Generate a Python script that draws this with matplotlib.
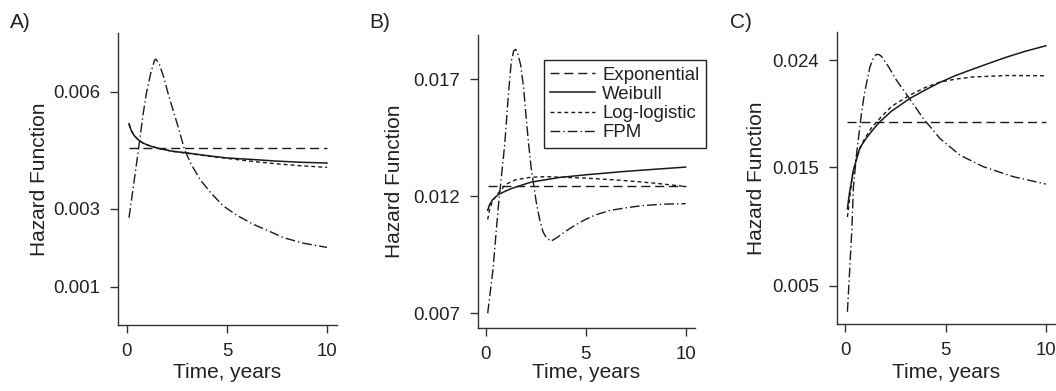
import matplotlib
matplotlib.use("Agg")
import matplotlib.pyplot as plt
from matplotlib.lines import Line2D

plt.rcParams['font.family'] = ['Liberation Sans', 'DejaVu Sans']
plt.rcParams['lines.scale_dashes'] = False

# ---------------- data ----------------
# Panel A
expo_A = 0.00456
t_wei_A = [0.1, 0.2, 0.35, 0.55, 0.8, 1.2, 1.7, 2.3, 3.0, 4.0, 5.0, 6.3, 7.5, 8.7, 10.0]
wei_A = [0.00518, 0.00502, 0.00488, 0.00477, 0.00468, 0.00460, 0.00453, 0.00447,
         0.00443, 0.00436, 0.00430, 0.00426, 0.00422, 0.00419, 0.00417]
t_ll_A = [0.1, 0.2, 0.35, 0.55, 0.8, 1.2, 1.7, 2.3, 3.0, 4.0, 5.0, 6.3, 7.5, 8.7, 10.0]
ll_A = [0.00516, 0.00501, 0.00488, 0.00477, 0.00468, 0.00460, 0.00453, 0.00447,
        0.00442, 0.00435, 0.00429, 0.00421, 0.00415, 0.00410, 0.00406]
t_fpm_A = [0.1, 0.3, 0.55, 0.8, 0.97, 1.2, 1.38, 1.45, 1.63, 1.85, 2.05, 2.3, 2.55,
           2.88, 3.2, 3.65, 4.2, 4.82, 5.5, 6.32, 7.0, 7.82, 8.8, 10.0]
fpm_A = [0.00277, 0.00350, 0.00443, 0.00540, 0.00596, 0.00650, 0.00681, 0.00683,
         0.00668, 0.00635, 0.00596, 0.00553, 0.00511, 0.00451, 0.00415, 0.00375,
         0.00340, 0.00307, 0.00283, 0.00260, 0.00245, 0.00226, 0.00212, 0.00201]

# Panel B
expo_B = 0.01243
t_wei_B = [0.1, 0.2, 0.35, 0.62, 1.0, 1.28, 1.8, 2.28, 3.0, 3.72, 5.0, 6.88, 8.5, 10.0]
wei_B = [0.01140, 0.01165, 0.01185, 0.01206, 0.01222, 0.01232, 0.01247, 0.01260,
         0.01270, 0.01280, 0.01291, 0.01305, 0.01315, 0.01324]
t_ll_B = [0.1, 0.2, 0.35, 0.6, 1.0, 1.5, 2.28, 3.0, 3.72, 5.0, 6.88, 8.5, 10.0]
ll_B = [0.01100, 0.01145, 0.01180, 0.01210, 0.01250, 0.01270, 0.01281, 0.01283,
        0.01281, 0.01277, 0.01267, 0.01255, 0.01241]
t_fpm_B = [0.1, 0.37, 0.62, 0.95, 1.15, 1.28, 1.4, 1.5, 1.6, 1.75, 1.9, 2.03, 2.15,
           2.28, 2.53, 2.7, 2.87, 3.05, 3.28, 3.6, 4.0, 4.45, 4.98, 5.5, 6.22, 7.0,
           7.88, 9.0, 10.0]
fpm_B = [0.00700, 0.00891, 0.01146, 0.01419, 0.01650, 0.01774, 0.01820, 0.01827,
         0.01810, 0.01760, 0.01660, 0.01530, 0.01420, 0.01317, 0.01174, 0.01100,
         0.01047, 0.01020, 0.01008, 0.01025, 0.01050, 0.01075, 0.01100, 0.01120,
         0.01139, 0.01150, 0.01160, 0.01166, 0.01168]

# Panel C
expo_C = 0.01876
t_wei_C = [0.1, 0.2, 0.4, 0.73, 1.05, 1.4, 1.72, 2.3, 3.22, 4.0, 4.72, 5.5, 6.38,
           7.2, 8.05, 9.0, 10.0]
wei_C = [0.01150, 0.01280, 0.01475, 0.01665, 0.01745, 0.01820, 0.01881, 0.01970,
         0.02078, 0.02150, 0.02212, 0.02270, 0.02325, 0.02375, 0.02425, 0.02475,
         0.02520]
t_ll_C = [0.1, 0.2, 0.35, 0.57, 0.9, 1.3, 1.72, 2.3, 3.22, 4.0, 4.72, 5.5, 6.38,
          8.05, 10.0]
ll_C = [0.01080, 0.01220, 0.01430, 0.01587, 0.01720, 0.01830, 0.01910, 0.02010,
        0.02106, 0.02170, 0.02215, 0.02240, 0.02258, 0.02270, 0.02268]
t_fpm_C = [0.1, 0.23, 0.32, 0.4, 0.57, 0.8, 0.96, 1.22, 1.4, 1.55, 1.7, 1.8, 2.13,
           2.55, 3.22, 3.88, 4.72, 5.72, 6.88, 8.38, 10.0]
fpm_C = [0.00283, 0.00690, 0.00970, 0.01334, 0.01630, 0.01950, 0.02130, 0.02340,
         0.02420, 0.02448, 0.02445, 0.02430, 0.02350, 0.02230, 0.02070, 0.01910,
         0.01740, 0.01600, 0.01503, 0.01419, 0.01357]

x_ticks = [0, 5, 10]
y_ticks_A = [0.001, 0.003, 0.006]
y_ticks_B = [0.007, 0.012, 0.017]
y_ticks_C = [0.005, 0.015, 0.024]
legend_labels = ["Exponential", "Weibull", "Log-logistic", "FPM"]
panel_labels = ["A)", "B)", "C)"]

# ---------------- styles ----------------
W, H = 1056, 391
LW = 1.0
DASH_EXP = (0, (6.5, 3.5))
DASH_LL = (0, (2.8, 2.2))
DASH_FPM = (0, (7.0, 2.2, 1.0, 2.2))
COL = '#1a1a1a'

fig = plt.figure(figsize=(W / 100, H / 100), dpi=100)


def px_axes(left, top, right, bottom):
    return fig.add_axes([left / W, 1 - bottom / H, (right - left) / W, (bottom - top) / H])


panels = [
    dict(box=(118, 33, 337, 325), xlim=(-0.45, 10.5), ylim=(0.000023, 0.0075),
         yt=y_ticks_A, ylx=40, lab=(20, 22),
         expo=expo_A, wei=(t_wei_A, wei_A), ll=(t_ll_A, ll_A), fpm=(t_fpm_A, fpm_A)),
    dict(box=(478, 35, 695, 328), xlim=(-0.385, 10.47), ylim=(0.00637, 0.01888),
         yt=y_ticks_B, ylx=395, lab=(380, 22),
         expo=expo_B, wei=(t_wei_B, wei_B), ll=(t_ll_B, ll_B), fpm=(t_fpm_B, fpm_B)),
    dict(box=(837, 32, 1056, 324), xlim=(-0.42, 10.51), ylim=(0.0018, 0.02636),
         yt=y_ticks_C, ylx=757, lab=(741, 22),
         expo=expo_C, wei=(t_wei_C, wei_C), ll=(t_ll_C, ll_C), fpm=(t_fpm_C, fpm_C)),
]

for i, p in enumerate(panels):
    l, t, r, b = p['box']
    ax = px_axes(l, t, r, b)
    ax.plot([0.1, 10.0], [p['expo'], p['expo']], color=COL, lw=LW, linestyle=DASH_EXP)
    ax.plot(*p['wei'], color=COL, lw=LW * 1.1, linestyle='-')
    ax.plot(*p['ll'], color=COL, lw=LW, linestyle=DASH_LL)
    ax.plot(*p['fpm'], color=COL, lw=LW, linestyle=DASH_FPM)
    ax.set_xlim(*p['xlim'])
    ax.set_ylim(*p['ylim'])
    ax.set_xticks(x_ticks)
    ax.set_xticklabels([str(v) for v in x_ticks])
    ax.set_yticks(p['yt'])
    ax.set_yticklabels([f"{v:.3f}" for v in p['yt']])
    for s in ['top', 'right']:
        ax.spines[s].set_visible(False)
    for s in ['left', 'bottom']:
        ax.spines[s].set_linewidth(1.0)
        ax.spines[s].set_color('#333333')
    ax.tick_params(direction='out', length=5.8, width=1.0, color='#333333',
                   labelsize=13.4, pad=7, labelcolor='#222222')
    ax.patch.set_alpha(0)
    # y label
    fig.text(p['ylx'] / W, 1 - ((t + b) / 2) / H, "Hazard Function", rotation=90,
             ha='center', va='center', fontsize=15, color='#222222')
    # x label
    xc = l + (5 - p['xlim'][0]) / (p['xlim'][1] - p['xlim'][0]) * (r - l)
    fig.text(xc / W, 1 - 378 / H, "Time, years", ha='center', va='baseline',
             fontsize=15, color='#222222')
    # panel label
    fig.text(p['lab'][0] / W, 1 - p['lab'][1] / H, panel_labels[i], ha='center',
             va='center', fontsize=15, color='#222222')

    if i == 1:
        handles = [
            Line2D([], [], color=COL, lw=LW, linestyle=DASH_EXP),
            Line2D([], [], color=COL, lw=LW * 1.1, linestyle='-'),
            Line2D([], [], color=COL, lw=LW, linestyle=DASH_LL),
            Line2D([], [], color=COL, lw=LW, linestyle=DASH_FPM),
        ]
        leg = ax.legend(handles, legend_labels, loc='upper left',
                        bbox_to_anchor=((543.7 - l) / (r - l), 1 - (60 - t) / (b - t)),
                        fontsize=13.4, frameon=True, fancybox=False, framealpha=1,
                        edgecolor='#222222', handlelength=2.4, handletextpad=0.4,
                        labelspacing=0.12, borderpad=0.35, borderaxespad=0)
        leg.get_frame().set_linewidth(1.0)
        for txt in leg.get_texts():
            txt.set_color('#222222')

fig.savefig("out.png", dpi=100)
